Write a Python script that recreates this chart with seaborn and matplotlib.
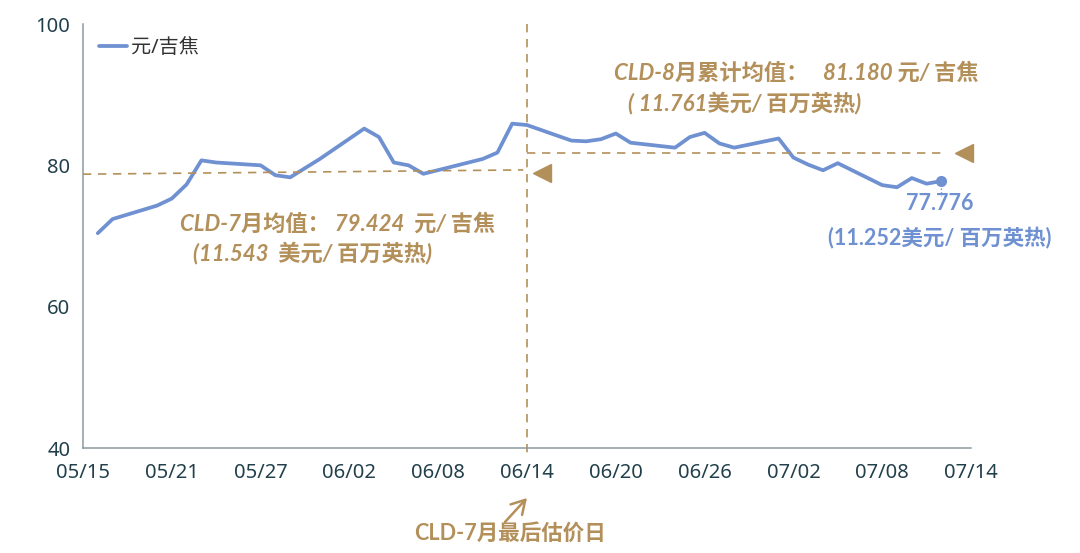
import matplotlib
matplotlib.use("Agg")
import numpy as np
import pandas as pd
import matplotlib.pyplot as plt
import matplotlib.dates as mdates
import seaborn as sns


# DATA

DATES = [
    "2024-05-16", "2024-05-17", "2024-05-20", "2024-05-21", "2024-05-22",
    "2024-05-23", "2024-05-24", "2024-05-27", "2024-05-28", "2024-05-29",
    "2024-05-30", "2024-05-31", "2024-06-03", "2024-06-04", "2024-06-05",
    "2024-06-06", "2024-06-07", "2024-06-11", "2024-06-12", "2024-06-13",
    "2024-06-14", "2024-06-17", "2024-06-18", "2024-06-19", "2024-06-20",
    "2024-06-21", "2024-06-24", "2024-06-25", "2024-06-26", "2024-06-27",
    "2024-06-28", "2024-07-01", "2024-07-02", "2024-07-03", "2024-07-04",
    "2024-07-05", "2024-07-08", "2024-07-09", "2024-07-10", "2024-07-11",
    "2024-07-12",
]
PRICES = [
    70.4, 72.4, 74.3, 75.3, 77.3,
    80.7, 80.4, 80.0, 78.6, 78.3,
    79.6, 80.9, 85.2, 84.0, 80.4,
    80.0, 78.8, 80.9, 81.8, 85.9,
    85.7, 83.5, 83.4, 83.7, 84.5,
    83.2, 82.5, 84.0, 84.6, 83.1,
    82.5, 83.8, 81.1, 80.1, 79.3,
    80.3, 77.2, 76.9, 78.2, 77.4,
    77.776,
]

SERIES_NAME = "元/吉焦"
LAST_DATE = "2024-06-14"          # CLD-7月最后估价日
JUL_LEVEL = [78.75, 79.35]        # dashed level, as drawn (start, end)
AUG_LEVEL = 81.8
X_START, X_END = "2024-05-15", "2024-07-14"
Y_TICKS = [40, 60, 80, 100]

JUL_TEXT = ["CLD-7月均值： 79.424  元/ 吉焦", "(11.543  美元/ 百万英热)"]
AUG_TEXT = ["CLD-8月累计均值：   81.180 元/ 吉焦", "( 11.761美元/ 百万英热)"]
LAST_TEXT = ["77.776", "(11.252美元/ 百万英热)"]
DAY_TEXT = "CLD-7月最后估价日"

BLUE = "#6f91d1"
GOLD = "#b3905a"
TICK_C = "#22404c"
AXIS_C = "#8c9a9c"
BOLD_FONTS = ["Lato", "Noto Sans CJK SC", "DejaVu Sans"]

W, H = 1080, 553


def fx(px):
    return px / W


def fy(py):
    return 1 - py / H


def main():
    df = pd.DataFrame({"date": pd.to_datetime(DATES), "price": PRICES})

    sns.set_theme(style="white")
    plt.rcParams["font.family"] = ["Noto Sans", "Noto Sans CJK SC", "DejaVu Sans"]

    fig = plt.figure(figsize=(W / 100, H / 100), dpi=100)
    ax = fig.add_axes([fx(83), fy(448), 888 / W, 424 / H])

    sns.lineplot(data=df, x="date", y="price", ax=ax, color=BLUE,
                 linewidth=2.7, label=SERIES_NAME)
    ax.plot(df["date"].iloc[-1], df["price"].iloc[-1], "o", color=BLUE,
            markersize=7, zorder=5)

    x0, x1 = pd.Timestamp(X_START), pd.Timestamp(X_END)
    xl = pd.Timestamp(LAST_DATE)
    ax.set_xlim(x0, x1)
    ax.set_ylim(40, 100)

    # dashed reference lines
    dash = dict(color=GOLD, linewidth=1.2, dashes=(5, 4))
    ax.plot([x0, xl - pd.Timedelta(days=0.25)], JUL_LEVEL, **dash)
    ax.plot([xl, x1 - pd.Timedelta(days=1.7)], [AUG_LEVEL, AUG_LEVEL], **dash)
    ax.plot([xl, xl], [100, 38.6], clip_on=False, **dash)

    # triangle pointers
    ax.plot(xl + pd.Timedelta(days=1.0), np.mean(JUL_LEVEL) - 0.2, marker="<",
            color=GOLD, markersize=13, linestyle="none")
    ax.plot(x1 - pd.Timedelta(days=0.5), AUG_LEVEL, marker="<",
            color=GOLD, markersize=13, linestyle="none", clip_on=False)

    # ticks and spines
    ticks = pd.date_range(x0, x1, freq="6D")
    ax.set_xticks(ticks)
    ax.xaxis.set_major_formatter(mdates.DateFormatter("%m/%d"))
    ax.set_yticks(Y_TICKS)
    ax.tick_params(axis="both", which="major", labelsize=14.5, colors=AXIS_C,
                   labelcolor=TICK_C, length=5, width=1, direction="out")
    ax.tick_params(axis="x", pad=6)
    ax.tick_params(axis="y", pad=4)
    for s in ["top", "right"]:
        ax.spines[s].set_visible(False)
    for s in ["left", "bottom"]:
        ax.spines[s].set_color(AXIS_C)
        ax.spines[s].set_linewidth(1.1)
    ax.set_xlabel("")
    ax.set_ylabel("")
    ax.grid(False)

    leg = ax.legend(loc="upper left", bbox_to_anchor=(0.0, 1.005), frameon=False,
                    fontsize=14.5, handlelength=1.4, handletextpad=0.2,
                    borderaxespad=0.4)
    for t in leg.get_texts():
        t.set_color("#333333")

    # annotations
    txt = dict(color=GOLD, fontsize=16, fontweight="bold", style="italic",
               family=BOLD_FONTS, va="center", ha="left")
    fig.text(fx(614), fy(73), AUG_TEXT[0], **txt)
    fig.text(fx(628), fy(103), AUG_TEXT[1], **txt)
    fig.text(fx(180), fy(224), JUL_TEXT[0], **txt)
    fig.text(fx(193), fy(253), JUL_TEXT[1], **txt)

    blue_txt = dict(color=BLUE, fontsize=15.5, fontweight="bold", family=BOLD_FONTS,
                    va="center", ha="center")
    fig.text(fx(940), fy(204), LAST_TEXT[0], **blue_txt)
    fig.text(fx(940), fy(238), LAST_TEXT[1], **blue_txt)
    ax.plot([df["date"].iloc[-1]] * 2, [76.8, 75.6], color=BLUE,
            linewidth=1, linestyle=":")

    fig.text(fx(510), fy(533), DAY_TEXT, color=GOLD, fontsize=15.5,
             fontweight="bold", family=BOLD_FONTS, ha="center", va="center")
    ax.annotate("", xy=(fx(527), fy(498)), xytext=(fx(505), fy(522)),
                xycoords="figure fraction", textcoords="figure fraction",
                arrowprops=dict(arrowstyle="->,head_length=0.6,head_width=0.35",
                                color=GOLD, lw=1.8, mutation_scale=16,
                                shrinkA=0, shrinkB=0))

    fig.savefig("out.png", dpi=100)
    plt.close(fig)


if __name__ == "__main__":
    main()
